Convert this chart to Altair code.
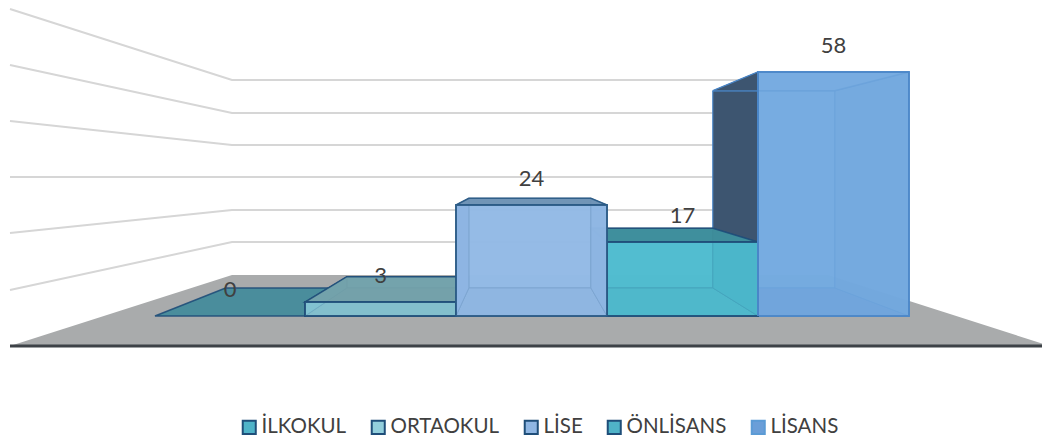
import altair as alt
import pandas as pd

categories = ["İLKOKUL", "ORTAOKUL", "LİSE", "ÖNLİSANS", "LİSANS"]
values = [0, 3, 24, 17, 58]
plotted_heights = [0, 14, 111, 74, 244]
slot_edges = [155, 305, 456, 607, 758, 909]
draw_order = [4, 0, 1, 3, 2]
grid_back = [242, 210, 177, 145, 113, 80]
grid_front = [290, 233, 177, 121, 65, 9]

legend_fill = ["#4fb3c8", "#93cfdc", "#8fb6e3", "#4fb3c8", "#6a9ed8"]
legend_stroke = ["#1f4e79", "#1f4e79", "#1f4e79", "#1f4e79", "#5b9bd5"]
edge_colors = ["#1f4e79", "#1f4e79", "#2a5a85", "#1f4e79", "#4a86c8"]
front_colors = ["#55bdd0", "#86c6d6", "#93bae6", "#4fbccf", "#74abe0"]
side_colors = ["#4a8d9c", "#6fb0c0", "#7aa5d8", "#3da6bb", "#3d5570"]
right_colors = ["#4a8d9c", "#6fb0c0", "#7aa5d8", "#3da6bb", "#6a9fd6"]
top_colors = ["#4a8d9c", "#74a1aa", "#6f93b5", "#3e8c9a", "#7fb0e0"]
bottom_colors = ["#4a8d9c", "#74a1aa", "#7ea6d6", "#48a8bb", "#5e90cf"]

BASE_Y, CX, VY, R = 316, 523, 170, 0.808
xs = alt.Scale(domain=[8, 1042], nice=False, zero=False)
ys = alt.Scale(domain=[440, 8], nice=False, zero=False)
X = alt.X("x:Q", scale=xs, axis=None)
Y = alt.Y("y:Q", scale=ys, axis=None)


def bx(x):
    return CX + (x - CX) * R


def by(y):
    return VY + (y - VY) * R


def vquad(x1, a1, b1, x2, a2, b2, fill, stroke, op=1.0, sw=1.5):
    d = pd.DataFrame({"x": [x1, x2], "y": [a1, a2], "y2": [b1, b2]})
    return alt.Chart(d).mark_area(fill=fill, fillOpacity=op, stroke=stroke, strokeWidth=sw, strokeOpacity=0.9).encode(
        x=X, y=Y, y2="y2:Q")


def hquad(y1, a1, b1, y2, a2, b2, fill, stroke, op=1.0, sw=1.5):
    d = pd.DataFrame({"y": [y1, y2], "x": [a1, a2], "x2": [b1, b2]})
    return alt.Chart(d).mark_area(orient="horizontal", fill=fill, fillOpacity=op, stroke=stroke, strokeWidth=sw,
                                  strokeOpacity=0.9).encode(y=Y, x=X, x2="x2:Q")


layers = []
layers.append(hquad(346, 10, 1050, 275, 232, 828, "#a9abac", "#a9abac", sw=0))

for fy, by_ in zip(grid_front, grid_back):
    d = pd.DataFrame({"x": [10, 232, 760], "y": [fy, by_, by_], "o": [0, 1, 2]})
    layers.append(alt.Chart(d).mark_line(color="#d6d6d6", strokeWidth=2).encode(x=X, y=Y, order="o:Q"))

d = pd.DataFrame({"x": [10, 1050], "y": [346, 346]})
layers.append(alt.Chart(d).mark_line(color="#3d4247", strokeWidth=2.8).encode(x=X, y=Y))

for i in draw_order:
    l, r = slot_edges[i], slot_edges[i + 1]
    h = plotted_heights[i]
    t = BASE_Y - h
    e = edge_colors[i]
    if h == 0:
        layers.append(hquad(BASE_Y, l, r, by(BASE_Y), bx(l), bx(r), top_colors[i], e))
        continue
    op = 0.92
    layers.append(vquad(bx(l), by(t), by(BASE_Y), bx(r), by(t), by(BASE_Y), front_colors[i], e, op=op, sw=1))
    layers.append(hquad(BASE_Y, l, r, by(BASE_Y), bx(l), bx(r), bottom_colors[i], e, op=op, sw=1))
    layers.append(vquad(bx(l), by(t), by(BASE_Y), l, t, BASE_Y, side_colors[i], e, op=1.0, sw=1))
    layers.append(vquad(bx(r), by(t), by(BASE_Y), r, t, BASE_Y, right_colors[i], e, op=op, sw=1))
    layers.append(hquad(t, l, r, by(t), bx(l), bx(r), top_colors[i], e, op=0.96))
    layers.append(vquad(l, t, BASE_Y, r, t, BASE_Y, front_colors[i], e, op=0.78, sw=2))
    if i == 4:
        # the part of the dark side that shows above the slanted top edge
        layers.append(hquad(t, l, l, by(t), bx(l), l, side_colors[i], e, sw=1))

d = pd.DataFrame({"x": [slot_edges[4], slot_edges[4]], "y": [BASE_Y - plotted_heights[4], BASE_Y]})
layers.append(alt.Chart(d).mark_line(color=edge_colors[4], strokeWidth=2).encode(x=X, y=Y))

lab = pd.DataFrame({
    "x": [(slot_edges[i] + slot_edges[i + 1]) / 2 for i in range(5)],
    "y": [BASE_Y - h - 26 for h in plotted_heights],
    "t": [str(v) for v in values],
})
layers.append(alt.Chart(lab).mark_text(font="Lato", fontSize=22, color="#404040").encode(x=X, y=Y, text="t:N"))

leg = pd.DataFrame({"cat": categories, "x": [2000] * 5, "y": [100] * 5})
legend = alt.Legend(title=None, orient="none", legendX=231, legendY=409, direction="horizontal", columns=5,
                    symbolType="square", symbolSize=170, symbolStrokeWidth=2, symbolOpacity=1,
                    labelFont="Lato", labelFontSize=20.5, labelColor="#404040", labelOffset=2,
                    columnPadding=20, symbolFillColor="transparent")
layers.append(alt.Chart(leg).mark_square(clip=True, size=170, filled=True, strokeWidth=2).encode(
    x=X, y=Y,
    fill=alt.Fill("cat:N", scale=alt.Scale(domain=categories, range=legend_fill), sort=categories, legend=legend),
    stroke=alt.Stroke("cat:N", scale=alt.Scale(domain=categories, range=legend_stroke), sort=categories, legend=legend),
))

chart = alt.layer(*layers).properties(
    width=1034, height=432, padding=0, autosize=alt.AutoSizeParams(type="none"), background="white",
).configure_view(stroke=None)
chart.save("out.html", embed_options={"renderer": "svg", "actions": False})
